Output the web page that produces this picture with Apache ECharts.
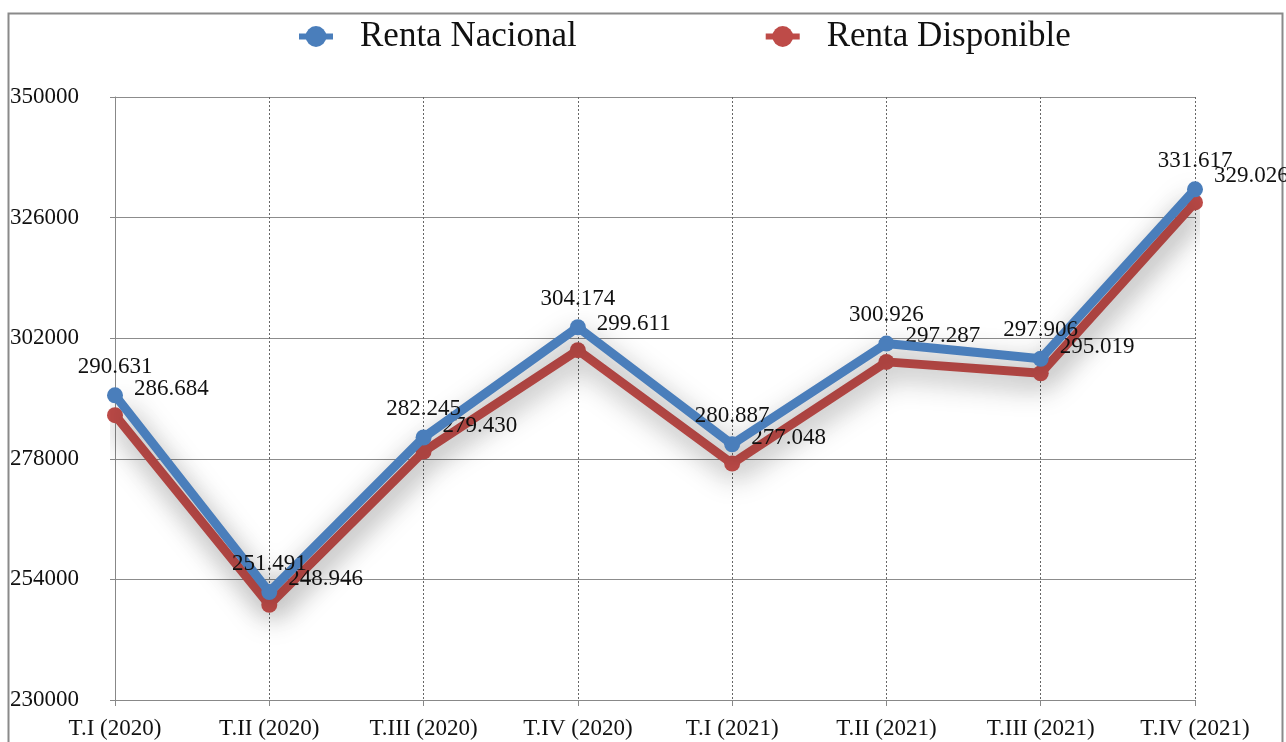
<!DOCTYPE html>
<html>
<head>
<meta charset="utf-8">
<script src="https://cdn.jsdelivr.net/npm/echarts@6/dist/echarts.min.js"></script>
<style>
html,body{margin:0;padding:0;background:#fff;}
#chart{width:1286px;height:742px;}
</style>
</head>
<body>
<div id="chart"></div>
<script>
var categories = ['T.I (2020)','T.II (2020)','T.III (2020)','T.IV (2020)','T.I (2021)','T.II (2021)','T.III (2021)','T.IV (2021)'];
var rentaNacional = [290631, 251491, 282245, 304174, 280887, 300926, 297906, 331617];
var rentaDisponible = [286684, 248946, 279430, 299611, 277048, 297287, 295019, 329026];
var seriesNames = ['Renta Nacional', 'Renta Disponible'];
var yMin = 230000, yMax = 350000, yStep = 24000;

function fmt(v){
  var t = Math.floor(v/1000), r = v % 1000;
  return t + '.' + ('00' + r).slice(-3);
}
var FONT = '"Liberation Serif", "DejaVu Serif", serif';
var chart = echarts.init(document.getElementById('chart'));
var shadow = {shadowBlur: 28, shadowColor: 'rgba(0,0,0,0.38)', shadowOffsetX: 3, shadowOffsetY: 10};
chart.setOption({
  animation: false,
  backgroundColor: '#fff',
  graphic: [{
    type: 'rect', shape: {x: 8.5, y: 13.5, width: 1274, height: 760},
    style: {fill: 'none', stroke: '#8a8a8a', lineWidth: 2}, silent: true
  }],
  legend: {
    left: 291, top: 14,
    itemWidth: 34, itemHeight: 26, itemGap: 186,
    lineStyle: {width: 6},
    textStyle: {fontFamily: FONT, fontSize: 35, color: '#111', padding: [0,0,0,22]},
    data: seriesNames
  },
  grid: {left: 115, right: 91, top: 97, bottom: 42},
  xAxis: {
    type: 'category', boundaryGap: false, data: categories,
    axisLine: {lineStyle: {color: '#888', width: 1}},
    axisTick: {show: true, length: 6, lineStyle: {color: '#888'}},
    axisLabel: {fontFamily: FONT, fontSize: 23, color: '#111', margin: 17, interval: 0},
    splitLine: {show: true, lineStyle: {color: '#666', type: [2,2], width: 1}}
  },
  yAxis: {
    type: 'value', min: yMin, max: yMax, interval: yStep,
    axisLine: {show: true, lineStyle: {color: '#888'}},
    axisTick: {show: true, length: 5, lineStyle: {color: '#888'}},
    axisLabel: {fontFamily: FONT, fontSize: 23, color: '#111', align: 'left', margin: 105,
      formatter: function(v){ return String(v); }},
    splitLine: {show: true, lineStyle: {color: '#8c8c8c', width: 1}}
  },
  series: [{
    name: seriesNames[0], type: 'line', data: rentaNacional,
    color: '#4A7EBB', symbol: 'circle', symbolSize: 16, z: 3,
    lineStyle: Object.assign({width: 9, color: '#4A7EBB'}, shadow),
    itemStyle: {color: '#4A7EBB'},
    label: {show: true, position: 'top', distance: 9, fontFamily: FONT, fontSize: 23, color: '#111',
      formatter: function(p){ return fmt(p.value); }}
  },{
    name: seriesNames[1], type: 'line', data: rentaDisponible,
    color: '#BE4B48', symbol: 'circle', symbolSize: 16, z: 2,
    lineStyle: Object.assign({width: 9, color: '#BE4B48'}, shadow),
    itemStyle: {color: '#BE4B48'},
    label: {show: true, position: 'right', distance: 11, offset: [0, -26], fontFamily: FONT, fontSize: 23, color: '#111',
      formatter: function(p){ return fmt(p.value); }}
  }]
});
</script>
</body>
</html>
